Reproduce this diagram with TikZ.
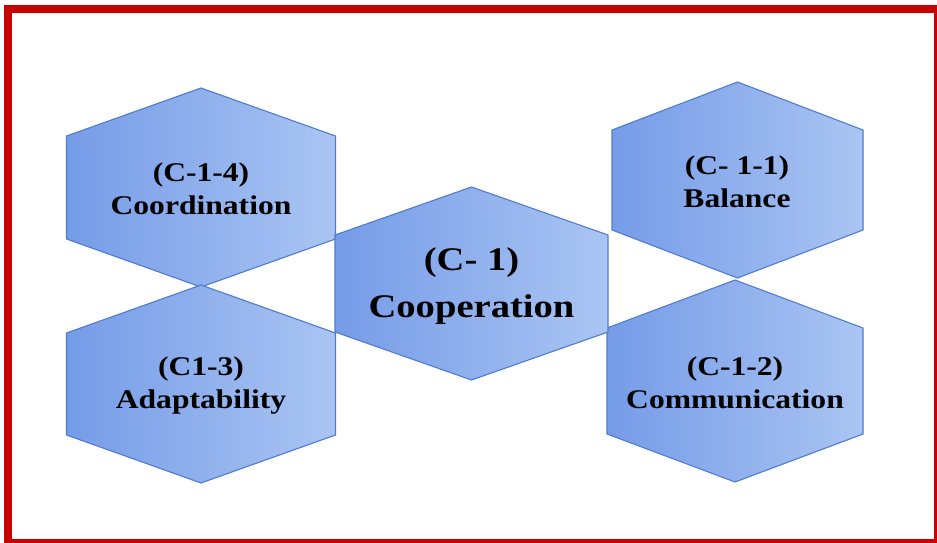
\documentclass[tikz,border=0pt]{standalone}
\usepackage{fontspec}
\usepackage{tikz}
\usetikzlibrary{shapes,positioning,calc}

\newfontfamily\hexfont[FakeStretch=1.17]{Liberation Serif}

\definecolor{hexleft}{RGB}{118,156,232}
\definecolor{hexright}{RGB}{170,197,243}
\definecolor{hexedge}{RGB}{80,124,206}
\definecolor{framered}{RGB}{200,0,0}

\tikzstyle{hexcell} = [draw=hexedge, line width=1.1pt, left color=hexleft, right color=hexright]
\tikzstyle{small} = [align=center, text=black, font=\hexfont\bfseries\fontsize{27}{33}\selectfont]
\tikzstyle{big} = [align=center, text=black, font=\hexfont\bfseries\fontsize{33}{47}\selectfont]

% pointy hexagon: centre x, centre y, half width, half height
\newcommand{\hexcell}[4]{%
  \path[hexcell] (#1,#2-#4) -- (#1+#3,#2-#4+48) -- (#1+#3,#2+#4-48)
    -- (#1,#2+#4) -- (#1-#3,#2+#4-48) -- (#1-#3,#2-#4+48) -- cycle;}

\begin{document}
\begin{tikzpicture}[x=1pt, y=-1pt]
    \useasboundingbox (0,0) rectangle (937,543);
    \fill[white] (0,0) rectangle (937,543);
    \draw[framered, line width=8pt] (8,9) rectangle (938,543);

    \hexcell{201}{187.5}{134.5}{99.5}
    \hexcell{201}{384}{134.5}{99}
    \hexcell{737.5}{180}{125.5}{98}
    \hexcell{735}{381}{128}{101}
    \hexcell{471.5}{283.5}{136.5}{96.5}

    \node [small] (coord) at (201,189) {(C-1-4)\\Coordination};
    \node [small] (adapt) at (201,386) {(C1-3)\\Adaptability};
    \node [small] (bal) at (737,182) {(C- 1-1)\\Balance};
    \node [small] (comm) at (735,383) {(C-1-2)\\Communication};
    \node [big] (coop) at (471.5,286) {(C- 1)\\Cooperation};
\end{tikzpicture}
\end{document}
